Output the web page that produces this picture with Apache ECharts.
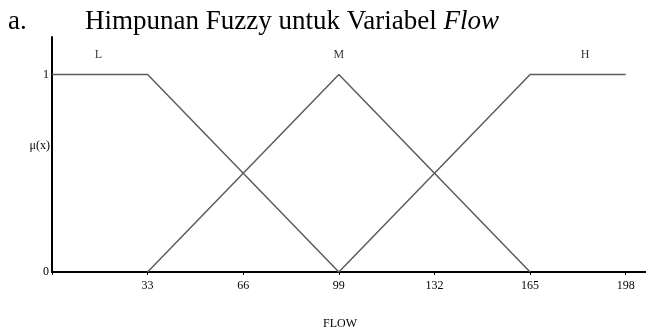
<!DOCTYPE html>
<html>
<head>
<meta charset="utf-8">
<script src="https://cdn.jsdelivr.net/npm/echarts@6/dist/echarts.min.js"></script>
<style>
	html, body { margin: 0; padding: 0; background: #fff; }
	#chart { width: 646px; height: 329px; }
</style>
</head>
<body>
<div id="chart"></div>
<script>
// himpunan fuzzy variabel flow
var lowX = [0, 33, 99];
var lowY = [1, 1, 0];
var medX = [33, 99, 165];
var medY = [0, 1, 0];
var highX = [99, 165, 198];
var highY = [0, 1, 1];
var setNames = ['L', 'M', 'H'];
var setNameX = [16, 99, 184];
var setNameY = [1.1, 1.1, 1.1];
var xTicks = [33, 66, 99, 132, 165, 198];
var yTicks = [0, 1];

function pts(xs, ys) {
	return xs.map(function (x, i) { return [x, ys[i]]; });
}

var serif = '"Liberation Serif", "DejaVu Serif", serif';
var lineColor = '#5c5c5c';

var myChart = echarts.init(document.getElementById('chart'));
myChart.setOption({
	animation: false,
	title: {
		text: '{a|a.}{t|Himpunan Fuzzy untuk Variabel }{i|Flow}',
		left: 3,
		top: 3,
		textStyle: {
			rich: {
				a: { fontFamily: serif, fontSize: 27, fontWeight: 'normal', color: '#000', width: 77 },
				t: { fontFamily: serif, fontSize: 27, fontWeight: 'normal', color: '#000' },
				i: { fontFamily: serif, fontSize: 27, fontWeight: 'normal', color: '#000', fontStyle: 'italic' }
			}
		}
	},
	grid: { left: 52, right: 0, top: 37, bottom: 57, outerBoundsMode: 'none', containLabel: false },
	xAxis: {
		type: 'value',
		min: 0,
		max: 205,
		interval: 33,
		name: 'FLOW',
		nameLocation: 'middle',
		nameGap: 46,
		nameTextStyle: { fontFamily: serif, fontSize: 12, color: '#000', padding: [0, 18, 0, 0] },
		axisLine: { lineStyle: { color: '#000', width: 2 } },
		axisTick: { show: true, length: 3, lineStyle: { color: '#000' } },
		splitLine: { show: false },
		axisLabel: {
			fontFamily: serif, fontSize: 12, color: '#000', margin: 8,
			formatter: function (v) { return xTicks.indexOf(v) >= 0 ? String(v) : ''; }
		}
	},
	yAxis: {
		type: 'value',
		min: 0,
		max: 1.19,
		interval: 1,
		name: 'μ(x)',
		nameLocation: 'middle',
		nameRotate: 0,
		nameGap: 2,
		nameMoveOverlap: false,
		nameTextStyle: { fontFamily: serif, fontSize: 12, color: '#000', verticalAlign: 'bottom', padding: [0, 0, 3, 0] },
		axisLine: { show: true, lineStyle: { color: '#000', width: 2 } },
		axisTick: { show: false },
		splitLine: { show: false },
		axisLabel: {
			fontFamily: serif, fontSize: 12, color: '#000', margin: 3,
			formatter: function (v) { return yTicks.indexOf(v) >= 0 ? String(v) : ''; }
		}
	},
	series: [
		{ name: 'L', type: 'line', symbol: 'none', data: pts(lowX, lowY),
			lineStyle: { color: lineColor, width: 1.5 } },
		{ name: 'M', type: 'line', symbol: 'none', data: pts(medX, medY),
			lineStyle: { color: lineColor, width: 1.5 } },
		{ name: 'H', type: 'line', symbol: 'none', data: pts(highX, highY),
			lineStyle: { color: lineColor, width: 1.5 } },
		{
			name: 'labels', type: 'scatter', symbolSize: 0,
			data: setNames.map(function (n, i) { return { name: n, value: [setNameX[i], setNameY[i]] }; }),
			label: {
				show: true, position: 'inside',
				fontFamily: serif, fontSize: 12, color: '#000',
				formatter: '{b}'
			}
		}
	]
});
</script>
</body>
</html>
